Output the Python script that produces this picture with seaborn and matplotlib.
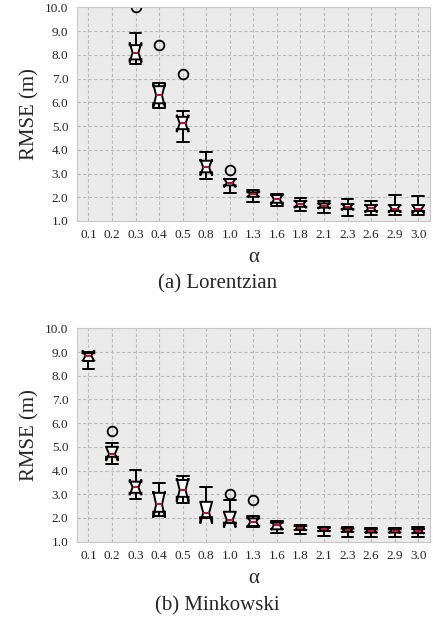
import pandas as pd
import matplotlib
matplotlib.use("Agg")
import matplotlib.pyplot as plt
import seaborn as sns

# --- Data ---
ALPHA_LABELS = ["0.1", "0.2", "0.3", "0.4", "0.5", "0.8", "1.0", "1.3",
                "1.6", "1.8", "2.1", "2.3", "2.6", "2.9", "3.0"]

# Lorentzian: whisker low, Q1, median, Q3, whisker high (None = no box)
lor_lo = [None, None, 7.60, 5.77, 4.31, 2.75, 2.19, 1.81, 1.64, 1.43, 1.35, 1.21, 1.25, 1.25, 1.25]
lor_q1 = [None, None, 7.81, 5.96, 4.87, 3.05, 2.50, 2.02, 1.77, 1.60, 1.56, 1.50, 1.42, 1.42, 1.42]
lor_med = [None, None, 8.10, 6.29, 5.11, 3.26, 2.61, 2.14, 1.91, 1.71, 1.64, 1.60, 1.53, 1.52, 1.49]
lor_q3 = [None, None, 8.41, 6.68, 5.39, 3.54, 2.77, 2.21, 2.09, 1.84, 1.74, 1.71, 1.67, 1.67, 1.67]
lor_hi = [None, None, 8.93, 6.82, 5.63, 3.89, 2.77, 2.30, 2.14, 1.98, 1.84, 1.91, 1.84, 2.09, 2.06]
lor_out_alpha = ["0.3", "0.4", "0.5", "1.0"]
lor_out_val = [10.0, 8.41, 7.19, 3.15]

# Minkowski
min_lo = [8.28, 4.26, 2.81, 2.09, 2.64, 1.98, 1.77, 1.63, 1.35, 1.32, 1.24, 1.18, 1.18, 1.18, 1.18]
min_q1 = [8.62, 4.58, 3.06, 2.26, 2.89, 2.03, 1.80, 1.66, 1.52, 1.49, 1.45, 1.41, 1.38, 1.38, 1.36]
min_med = [8.84, 4.70, 3.29, 2.57, 3.18, 2.22, 1.92, 1.84, 1.69, 1.59, 1.52, 1.49, 1.46, 1.46, 1.45]
min_q3 = [8.95, 5.00, 3.53, 3.06, 3.60, 2.68, 2.26, 1.98, 1.80, 1.66, 1.59, 1.55, 1.52, 1.52, 1.53]
min_hi = [8.99, 5.17, 4.02, 3.49, 3.77, 3.29, 2.76, 2.08, 1.87, 1.70, 1.63, 1.60, 1.56, 1.56, 1.60]
min_out_alpha = ["0.2", "1.0", "1.3"]
min_out_val = [5.65, 3.00, 2.76]

MEDIAN_RED = "#c8102e"
BG = "#ebebeb"


def to_frame(lo, q1, med, q3, hi):
    """Five-number summary per alpha -> long table for seaborn."""
    rows = []
    for a, vals in zip(ALPHA_LABELS, zip(lo, q1, med, q3, hi)):
        if vals[0] is None:
            continue
        for v in vals:
            rows.append({"alpha": a, "rmse": v})
    return pd.DataFrame(rows)


def draw_panel(ax, df, out_alpha, out_val):
    sns.boxplot(data=df, x="alpha", y="rmse", order=ALPHA_LABELS, ax=ax,
                whis=(0, 100), notch=True, width=0.5, color="white",
                linecolor="black", linewidth=1.4, capwidths=0.5,
                medianprops={"color": MEDIAN_RED, "linewidth": 1.5})
    sns.pointplot(x=out_alpha, y=out_val, order=ALPHA_LABELS, ax=ax,
                  linestyle="none", marker="o", markersize=7,
                  markerfacecolor="none", markeredgecolor="black",
                  markeredgewidth=1.3, color="black", errorbar=None)
    ax.set_facecolor(BG)
    ax.set_xlim(-0.5, 14.5)
    ax.set_ylim(1.0, 10.0)
    ax.set_yticks(range(1, 11))
    ax.set_yticklabels([f"{v:.1f}" for v in range(1, 11)])
    ax.grid(True, color="#bcbcbc", linestyle=(0, (3, 2)), linewidth=0.8)
    ax.set_axisbelow(True)
    for s in ax.spines.values():
        s.set_color("#c8c8c8")
        s.set_linewidth(0.8)
    ax.tick_params(direction="in", length=5, width=1.3, color="black",
                   labelsize=9.5, pad=6)
    ax.set_xlabel("α", fontsize=15, labelpad=5)
    ax.set_ylabel("RMSE (m)", fontsize=15, labelpad=4)


sns.set_theme(style="whitegrid")
plt.rcParams["font.family"] = ["Liberation Serif", "DejaVu Serif"]

fig = plt.figure(figsize=(4.33, 6.19), dpi=100)
ax1 = fig.add_axes([0.177, 0.643, 0.816, 0.345])
ax2 = fig.add_axes([0.177, 0.125, 0.816, 0.3446])

draw_panel(ax1, to_frame(lor_lo, lor_q1, lor_med, lor_q3, lor_hi), lor_out_alpha, lor_out_val)
draw_panel(ax2, to_frame(min_lo, min_q1, min_med, min_q3, min_hi), min_out_alpha, min_out_val)

fig.text(0.503, 1 - 284 / 619, "(a) Lorentzian", ha="center", va="center", fontsize=15)
fig.text(0.503, 1 - 606 / 619, "(b) Minkowski", ha="center", va="center", fontsize=15)

fig.savefig("out.png", dpi=100)
